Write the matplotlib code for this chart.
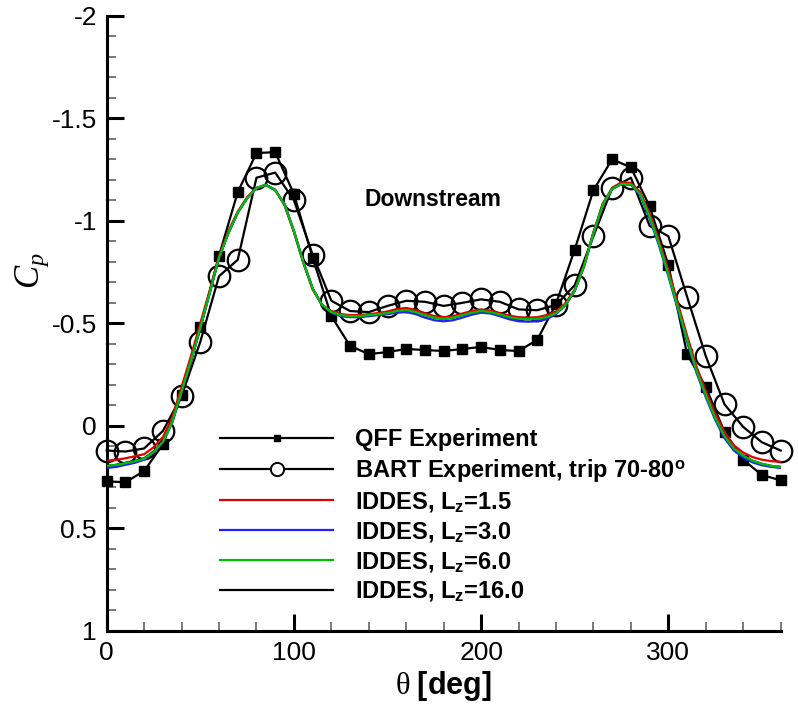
import matplotlib
matplotlib.use("Agg")
import matplotlib.pyplot as plt
from matplotlib.lines import Line2D
from matplotlib.ticker import MultipleLocator, FuncFormatter

plt.rcParams['font.family'] = ['Liberation Sans', 'DejaVu Sans']
plt.rcParams['mathtext.fontset'] = 'custom'
plt.rcParams['mathtext.rm'] = 'Liberation Serif'
plt.rcParams['mathtext.it'] = 'Liberation Serif:italic'
plt.rcParams['mathtext.bf'] = 'Liberation Sans:bold'
plt.rcParams['axes.unicode_minus'] = False

# ---------------------------------------------------------------- data
theta_exp = [0, 10, 20, 30, 40, 50, 60, 70, 80, 90, 100, 110, 120, 130, 140,
             150, 160, 170, 180, 190, 200, 210, 220, 230, 240, 250, 260, 270,
             280, 290, 300, 310, 320, 330, 340, 350, 360]

cp_qff = [0.27, 0.275, 0.22, 0.09, -0.15, -0.48, -0.83, -1.14, -1.33, -1.335,
          -1.13, -0.82, -0.535, -0.39, -0.35, -0.36, -0.375, -0.37, -0.365,
          -0.375, -0.385, -0.37, -0.365, -0.42, -0.595, -0.86, -1.15, -1.30,
          -1.26, -1.07, -0.785, -0.35, -0.19, 0.03, 0.165, 0.24, 0.265]

cp_bart = [0.12, 0.125, 0.11, 0.025, -0.145, -0.41, -0.73, -0.81, -1.21,
           -1.235, -1.10, -0.835, -0.61, -0.56, -0.555, -0.585, -0.61, -0.605,
           -0.585, -0.60, -0.617, -0.605, -0.568, -0.564, -0.59, -0.686,
           -0.925, -1.16, -1.21, -0.975, -0.925, -0.63, -0.34, -0.105, 0.005,
           0.08, 0.12]

theta_cfd = [0, 5, 10, 15, 20, 25, 30, 35, 40, 45, 50, 55, 60, 65, 70, 75, 80,
             85, 90, 95, 100, 105, 110, 115, 120, 125, 130, 135, 140, 145, 150,
             155, 160, 165, 170, 175, 180, 185, 190, 195, 200, 205, 210, 215,
             220, 225, 230, 235, 240, 245, 250, 255, 260, 265, 270, 275, 280,
             285, 290, 295, 300, 305, 310, 315, 320, 325, 330, 335, 340, 345,
             350, 355, 360]

cp_lz15 = [0.17, 0.165, 0.158, 0.148, 0.138, 0.105, 0.055, -0.04, -0.19,
           -0.34, -0.50, -0.66, -0.83, -0.95, -1.045, -1.115, -1.16, -1.175,
           -1.15, -1.075, -0.945, -0.795, -0.665, -0.59, -0.56, -0.545, -0.54,
           -0.54, -0.545, -0.55, -0.558, -0.57, -0.575, -0.565, -0.55, -0.535,
           -0.53, -0.535, -0.548, -0.56, -0.568, -0.562, -0.55, -0.538, -0.53,
           -0.528, -0.53, -0.54, -0.558, -0.598, -0.665, -0.785, -0.945,
           -1.085, -1.16, -1.188, -1.185, -1.14, -1.035, -0.905, -0.76, -0.60,
           -0.44, -0.29, -0.17, -0.06, 0.03, 0.095, 0.13, 0.152, 0.165, 0.172,
           0.175]

cp_lz30 = [0.205, 0.2, 0.19, 0.18, 0.165, 0.13, 0.08, -0.015, -0.165, -0.315,
           -0.475, -0.645, -0.82, -0.94, -1.04, -1.11, -1.16, -1.175, -1.15,
           -1.08, -0.95, -0.80, -0.67, -0.59, -0.552, -0.535, -0.53, -0.53,
           -0.535, -0.54, -0.545, -0.552, -0.555, -0.545, -0.528, -0.515,
           -0.51, -0.515, -0.528, -0.542, -0.552, -0.548, -0.535, -0.52,
           -0.51, -0.508, -0.51, -0.52, -0.545, -0.588, -0.658, -0.778, -0.94,
           -1.08, -1.155, -1.18, -1.175, -1.125, -1.01, -0.88, -0.73, -0.57,
           -0.41, -0.26, -0.14, -0.03, 0.06, 0.12, 0.155, 0.178, 0.192, 0.2,
           0.205]

cp_lz60 = [0.195, 0.19, 0.182, 0.172, 0.16, 0.128, 0.078, -0.018, -0.168,
           -0.318, -0.478, -0.648, -0.82, -0.94, -1.04, -1.11, -1.16, -1.175,
           -1.15, -1.08, -0.95, -0.80, -0.67, -0.59, -0.555, -0.54, -0.535,
           -0.535, -0.54, -0.545, -0.55, -0.56, -0.565, -0.555, -0.54, -0.528,
           -0.522, -0.528, -0.54, -0.552, -0.56, -0.555, -0.543, -0.53,
           -0.522, -0.52, -0.522, -0.53, -0.55, -0.59, -0.66, -0.78, -0.94,
           -1.08, -1.155, -1.18, -1.178, -1.13, -1.02, -0.89, -0.74, -0.58,
           -0.42, -0.27, -0.15, -0.04, 0.05, 0.11, 0.145, 0.17, 0.185, 0.195,
           0.2]

cp_lz160 = [0.195, 0.19, 0.18, 0.17, 0.158, 0.125, 0.075, -0.02, -0.17,
            -0.32, -0.48, -0.65, -0.82, -0.94, -1.04, -1.11, -1.16, -1.175,
            -1.15, -1.08, -0.95, -0.80, -0.67, -0.59, -0.555, -0.54, -0.535,
            -0.535, -0.54, -0.545, -0.55, -0.56, -0.565, -0.555, -0.54,
            -0.528, -0.522, -0.528, -0.54, -0.552, -0.56, -0.555, -0.543,
            -0.53, -0.522, -0.52, -0.522, -0.53, -0.55, -0.59, -0.66, -0.78,
            -0.94, -1.08, -1.155, -1.18, -1.178, -1.13, -1.02, -0.89, -0.74,
            -0.58, -0.42, -0.27, -0.15, -0.04, 0.05, 0.11, 0.145, 0.17, 0.185,
            0.195, 0.2]

labels = ['QFF Experiment',
          r'BART Experiment, trip 70-80$^\mathbf{o}$',
          r'IDDES, L$_\mathbf{z}$=1.5',
          r'IDDES, L$_\mathbf{z}$=3.0',
          r'IDDES, L$_\mathbf{z}$=6.0',
          r'IDDES, L$_\mathbf{z}$=16.0']
cfd_colors = ['#e00000', '#2020ff', '#00c000', 'black']

# ---------------------------------------------------------------- plot
fig = plt.figure(figsize=(7.98, 7.07), dpi=100)
ax = fig.add_axes([0.1337, 0.1075, 0.8446, 0.8703])

ax.plot(theta_exp, cp_qff, color='black', lw=1.6, marker='s', ms=7.5,
        clip_on=False, zorder=3)
ax.plot(theta_exp, cp_bart, color='black', lw=1.6, marker='o', ms=15.5,
        mfc='none', mec='black', mew=1.6, clip_on=False, zorder=3)
ax.plot(theta_cfd, cp_lz160, color=cfd_colors[3], lw=1.6, zorder=4)
ax.plot(theta_cfd, cp_lz15, color=cfd_colors[0], lw=1.6, zorder=4)
ax.plot(theta_cfd, cp_lz30, color=cfd_colors[1], lw=1.6, zorder=4)
ax.plot(theta_cfd, cp_lz60, color=cfd_colors[2], lw=1.6, zorder=4)

ax.set_xlim(0, 360)
ax.set_ylim(1, -2)

for side in ['top', 'right']:
    ax.spines[side].set_visible(False)
for side in ['left', 'bottom']:
    ax.spines[side].set_linewidth(2.2)

ax.xaxis.set_major_locator(MultipleLocator(100))
ax.xaxis.set_minor_locator(MultipleLocator(20))
ax.yaxis.set_major_locator(MultipleLocator(0.5))
ax.yaxis.set_minor_locator(MultipleLocator(0.1))
ax.yaxis.set_major_formatter(FuncFormatter(lambda v, p: '%g' % v))
ax.tick_params(which='major', direction='in', length=12, width=2.2,
               labelsize=19, pad=7)
ax.tick_params(which='minor', direction='in', length=6.5, width=1.1,
               color='#555555')

ax.set_xlabel(r'$\mathrm{\theta}\ \mathbf{[deg]}$', fontsize=22, labelpad=3)
ax.set_ylabel(r'$C_p$', fontsize=25, rotation=90)
ax.yaxis.set_label_coords(-0.082, 0.585)

ax.text(174, -1.106, 'Downstream', ha='center', va='center',
        fontsize=16.5, fontweight='bold')

handles = [Line2D([], [], color='black', lw=1.6, marker='s', ms=5),
           Line2D([], [], color='black', lw=1.6, marker='o', ms=9.5,
                  mfc='white', mec='black', mew=1.4)]
handles += [Line2D([], [], color=c, lw=1.6) for c in cfd_colors]
ax.legend(handles, labels, loc='upper left', bbox_to_anchor=(0.168, 0.33),
          frameon=False, borderpad=0, borderaxespad=0, handlelength=4.8,
          handletextpad=0.9, labelspacing=0.25,
          prop={'weight': 'bold', 'size': 17})

fig.savefig('out.png', dpi=100)
